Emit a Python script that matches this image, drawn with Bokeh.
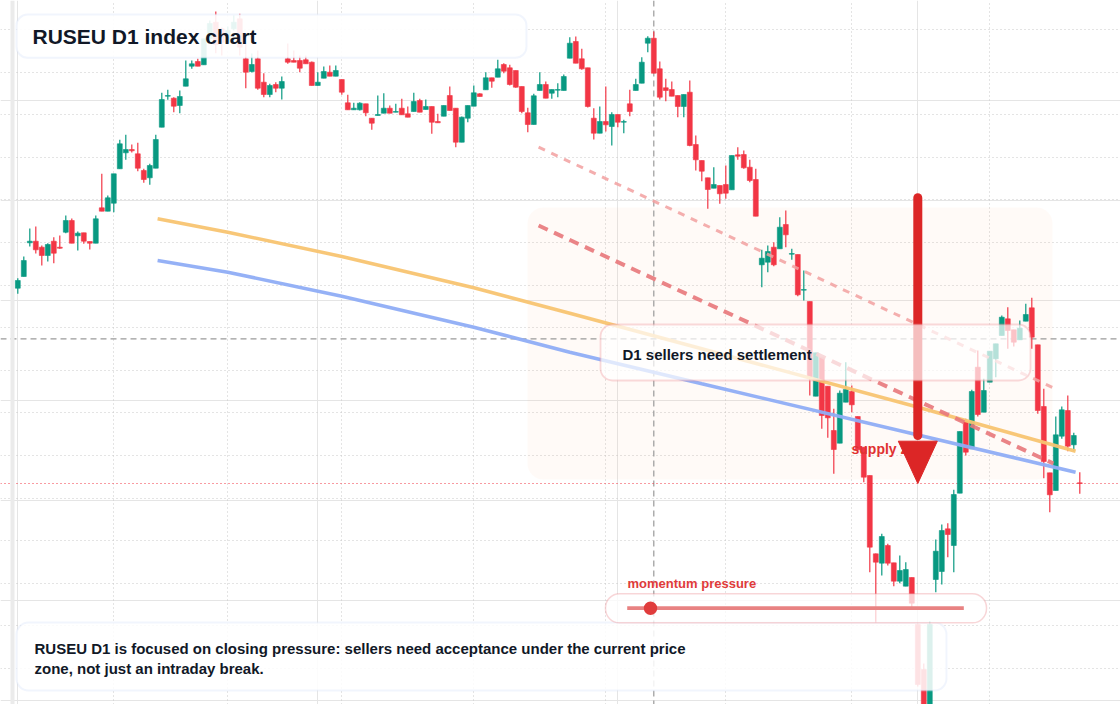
from bokeh.plotting import figure
from bokeh.models import Range1d, FixedTicker, Grid, BoxAnnotation, Label, Span, ColumnDataSource
from bokeh.embed import file_html
from bokeh.resources import INLINE

# ---------------- data (daily candles) ----------------
open_ = [
    51.23, 52.4, 55.77, 55.93, 55.33, 54.5, 55.93, 55.33, 56.83, 58.0,
    56.47, 56.77, 55.9, 55.73, 59.27, 58.93, 59.73, 63.17, 64.77, 65.1,
    64.67, 63.0, 62.27, 63.23, 67.33, 70.43, 70.23, 69.5, 71.43, 73.43,
    73.9, 73.57, 76.2, 77.83, 77.17, 75.8, 77.17, 78.17, 74.17, 72.9,
    74.17, 71.83, 70.6, 71.6, 71.23, 74.17, 74.0, 74.0, 74.07, 73.83,
    71.5, 72.23, 72.83, 72.43, 72.1, 69.77, 69.07, 69.07, 69.67, 68.23,
    68.5, 68.73, 69.23, 68.83, 69.23, 68.67, 68.9, 70.0, 69.1, 69.4,
    67.9, 68.43, 70.5, 69.23, 65.83, 68.23, 69.43, 70.67, 71.07, 72.27,
    72.33, 73.6, 73.27, 73.0, 71.4, 68.77, 67.6, 71.0, 71.6, 70.73,
    71.03, 71.0, 74.23, 75.9, 74.17, 73.27, 68.23, 66.73, 67.9, 67.4,
    68.6, 67.83, 69.67, 71.0, 71.73, 75.73, 76.23, 73.17, 71.27, 71.1,
    70.5, 69.4, 70.83, 65.6, 64.0, 62.27, 61.23, 61.5, 61.6, 61.07,
    64.57, 64.6, 63.33, 62.1, 53.57, 53.83, 55.33, 55.17, 57.6, 54.63,
    54.6, 51.03, 49.9, 40.43, 44.33, 41.43, 37.0, 35.73, 39.83, 40.9,
    38.4, 35.33, 32.5, 24.67, 23.73, 25.5, 23.77, 21.93, 21.43, 22.3,
    17.6, 13.1, 8.0, 22.1, 22.9, 27.17, 25.5, 30.73, 37.9, 35.17,
    43.33, 38.83, 41.83, 44.17, 46.5, 48.17, 47.07, 46.07, 47.93, 49.27,
    45.57, 39.4, 32.77, 31.0, 36.43, 39.0, 35.57, 31.77,
]
high = [
    52.23, 54.4, 57.2, 57.4, 55.5, 55.73, 56.33, 56.5, 58.5, 58.2,
    56.9, 56.77, 55.9, 58.5, 62.67, 60.5, 62.67, 66.07, 66.57, 65.6,
    65.77, 63.17, 63.67, 66.57, 70.77, 71.07, 70.33, 71.0, 74.0, 74.0,
    74.17, 76.17, 78.0, 78.9, 77.3, 77.4, 78.5, 78.67, 75.67, 74.7,
    75.0, 72.73, 71.67, 71.83, 72.4, 75.7, 75.0, 74.5, 74.5, 73.9,
    72.83, 73.4, 73.5, 73.5, 72.1, 70.57, 69.77, 69.83, 69.67, 68.23,
    70.5, 70.73, 69.5, 69.67, 70.17, 69.4, 70.77, 70.17, 70.1, 69.4,
    68.67, 69.5, 71.4, 69.23, 68.4, 69.5, 71.5, 70.73, 72.83, 72.27,
    74.07, 73.73, 73.57, 73.0, 71.4, 69.27, 70.67, 72.83, 71.9, 71.1,
    71.73, 72.6, 76.33, 76.4, 75.17, 73.27, 69.23, 69.4, 71.4, 68.83,
    68.6, 68.07, 71.07, 72.17, 74.33, 76.43, 76.9, 73.9, 72.17, 71.9,
    70.5, 70.6, 72.0, 66.5, 64.0, 62.27, 63.33, 61.5, 63.5, 64.5,
    65.33, 65.0, 64.07, 63.17, 55.07, 55.5, 55.83, 58.33, 59.0, 55.17,
    54.6, 53.0, 49.9, 44.77, 44.33, 41.43, 39.17, 41.0, 43.83, 41.5,
    38.4, 35.33, 32.5, 24.7, 26.67, 25.67, 23.77, 24.5, 23.83, 22.3,
    17.7, 13.7, 17.9, 26.1, 27.6, 27.73, 31.07, 36.9, 38.17, 41.07,
    45.0, 42.17, 44.93, 45.67, 48.5, 49.33, 47.07, 48.0, 49.67, 50.27,
    45.57, 41.17, 32.77, 38.4, 39.4, 40.5, 36.77, 32.83,
]
low = [
    50.67, 52.4, 55.4, 54.7, 53.5, 53.9, 53.73, 55.17, 56.73, 55.73,
    55.0, 55.67, 55.1, 55.73, 58.93, 58.93, 58.83, 63.17, 64.07, 64.8,
    62.93, 61.77, 61.57, 63.23, 67.33, 70.07, 68.83, 68.73, 71.43, 73.17,
    73.43, 73.57, 75.8, 74.73, 74.5, 75.6, 77.0, 74.5, 71.23, 72.8,
    71.07, 70.33, 70.33, 70.83, 70.1, 73.67, 73.83, 72.83, 73.67, 71.5,
    71.5, 72.23, 72.43, 72.43, 70.57, 69.07, 69.07, 69.0, 68.43, 67.07,
    68.5, 68.73, 68.73, 68.83, 68.57, 68.33, 68.9, 68.83, 69.1, 66.67,
    67.77, 68.43, 69.0, 65.33, 65.83, 67.83, 69.43, 70.4, 71.07, 71.27,
    72.33, 72.73, 71.5, 71.27, 68.73, 66.83, 67.6, 71.0, 70.23, 70.17,
    70.33, 71.0, 74.23, 73.73, 73.07, 69.3, 66.1, 66.73, 66.9, 65.5,
    67.33, 66.73, 68.43, 71.0, 71.73, 74.83, 72.73, 70.1, 69.93, 70.43,
    68.33, 68.33, 65.43, 63.0, 61.93, 59.17, 61.23, 59.67, 60.17, 61.07,
    64.07, 63.17, 61.83, 58.43, 51.33, 52.83, 53.43, 55.17, 55.33, 54.07,
    50.43, 50.0, 40.5, 40.43, 37.17, 36.27, 32.67, 35.73, 39.83, 38.83,
    35.07, 31.83, 22.83, 17.8, 22.5, 23.5, 21.43, 21.73, 21.43, 19.17,
    11.4, 7.5, 7.2, 20.83, 21.6, 24.33, 22.83, 30.73, 34.5, 35.17,
    38.4, 38.83, 41.83, 42.33, 46.5, 45.17, 45.4, 46.07, 47.93, 45.17,
    38.67, 32.23, 28.83, 31.0, 36.17, 34.93, 34.93, 30.67,
]
close = [
    52.0, 54.0, 55.93, 55.07, 54.5, 55.6, 54.73, 55.23, 58.0, 55.73,
    56.73, 55.93, 55.73, 58.17, 58.93, 60.27, 62.67, 65.67, 65.1, 64.97,
    63.23, 62.1, 63.5, 66.1, 70.1, 70.5, 69.43, 70.4, 72.17, 73.67,
    73.43, 76.17, 77.7, 75.6, 75.83, 77.0, 77.83, 75.33, 72.83, 73.6,
    71.23, 70.6, 71.5, 71.23, 71.9, 73.83, 73.83, 73.23, 73.67, 71.5,
    71.83, 72.9, 72.43, 73.0, 70.83, 69.07, 69.23, 69.73, 68.77, 67.73,
    68.6, 69.23, 68.73, 68.9, 68.57, 68.33, 69.9, 68.83, 69.4, 67.83,
    67.77, 69.5, 69.0, 65.83, 68.33, 69.5, 70.77, 70.4, 72.27, 71.93,
    73.17, 72.93, 71.6, 71.33, 68.9, 67.6, 70.47, 71.6, 70.23, 71.1,
    71.1, 72.4, 75.73, 73.73, 73.17, 69.4, 66.73, 67.9, 67.57, 68.6,
    67.83, 67.9, 68.9, 71.6, 73.83, 76.23, 72.73, 70.33, 71.0, 70.43,
    69.4, 70.6, 65.5, 64.07, 62.93, 61.1, 61.6, 60.67, 60.73, 64.5,
    64.43, 63.27, 62.0, 58.43, 54.23, 54.9, 53.57, 57.33, 56.57, 54.7,
    50.57, 51.1, 42.33, 44.77, 38.5, 38.27, 35.1, 40.73, 41.1, 39.57,
    35.07, 32.33, 25.33, 23.83, 26.4, 23.73, 21.93, 23.0, 23.1, 19.73,
    11.6, 8.2, 17.6, 24.93, 27.0, 26.6, 30.6, 36.9, 34.83, 40.9,
    38.6, 41.0, 44.93, 45.67, 48.33, 47.0, 45.83, 47.23, 48.6, 46.33,
    39.0, 33.9, 30.57, 36.57, 39.07, 35.43, 36.5, 31.7,
]

# month grid (candle index) and price grid
x_grid_ticks = [16, 35, 54, 76, 98, 118, 139, 162]
y_grid_ticks = [77.1, 72.84, 68.58, 64.32, 60.06, 55.8, 51.54, 47.28,
                43.02, 38.76, 34.5, 30.24, 25.98, 21.72, 17.46, 13.2]

# smoothed trend curves (candle index, price)
trend_x = [23.3, 35, 54, 76, 92, 114, 149, 176.3]
trend_orange = [58.17, 56.83, 54.4, 51.27, 48.73, 45.17, 39.5, 34.93]
trend_blue = [54.0, 52.83, 50.43, 47.33, 44.83, 41.67, 36.7, 32.83]

# descending channel (candle index, price)
chan_upper_x = [86.8, 172.45]
chan_upper = [65.33, 41.3]
chan_lower_x = [86.8, 172.6]
chan_lower = [57.5, 33.7]

crosshair_x = 106
crosshair_y = 46.17
supply_zone = dict(left=84.95, right=172.45, top=59.3, bottom=32.1)

title = "RUSEU D1 index chart"
note_lines = ["RUSEU D1 is focused on closing pressure: sellers need acceptance under the current price",
              "zone, not just an intraday break."]
callout = "D1 sellers need settlement"
zone_label = "supply zone"
momentum_label = "momentum pressure"

# ---------------- figure ----------------
GREEN = "#089981"
RED = "#f23645"
FONT = "Liberation Sans"
DARK = "#111827"

n = len(close)
idx = list(range(n))
colors = [GREEN if c >= o else RED for o, c in zip(open_, close)]
src = ColumnDataSource(dict(
    x=idx, high=high, low=low,
    top=[max(o, c) for o, c in zip(open_, close)],
    bottom=[min(o, c) for o, c in zip(open_, close)],
    color=colors,
))

W, H = 1120, 704
x0 = -17.3 / 6
p = figure(width=W, height=H, x_range=Range1d(x0, x0 + W / 6), y_range=Range1d(80 - H / 10, 80),
           output_backend="svg", toolbar_location=None, x_axis_location=None, y_axis_location=None,
           min_border=0, outline_line_color=None)
p.background_fill_color = "white"
p.border_fill_color = "white"

grid_style = dict(grid_line_color="#c9c9c9", grid_line_dash="1 3", grid_line_width=1)
p.add_layout(Grid(dimension=0, ticker=FixedTicker(ticks=x_grid_ticks), **grid_style))
p.add_layout(Grid(dimension=1, ticker=FixedTicker(ticks=y_grid_ticks), **grid_style))

p.add_layout(BoxAnnotation(fill_color="#fb923c", fill_alpha=0.045, line_color=None,
                           border_radius=16, level="underlay", **supply_zone))

p.add_layout(Span(location=crosshair_x, dimension="height", line_color="#9a9a9a",
                  line_dash="6 4", line_width=1.2, level="underlay"))
p.add_layout(Span(location=crosshair_y, dimension="width", line_color="#9a9a9a",
                  line_dash="6 4", line_width=1.2, level="underlay"))
p.add_layout(Span(location=close[-1], dimension="width", line_color=RED,
                  line_dash="1 3", line_width=1.2, level="underlay"))

# candles
p.segment(x0="x", y0="low", x1="x", y1="high", line_color="color", line_width=1.2, source=src)
p.vbar(x="x", width=0.82, top="top", bottom="bottom", fill_color="color",
       line_color="color", line_width=0.6, source=src)

# trend curves and channel
p.line(trend_x, trend_orange, line_color="#f8c471", line_width=3.5, line_alpha=0.95)
p.line(trend_x, trend_blue, line_color="#8fadf5", line_width=3.5, line_alpha=0.95)
p.line(chan_upper_x, chan_upper, line_color="#f2a0a0", line_width=3, line_dash="7 7", line_alpha=0.85)
p.line(chan_lower_x, chan_lower, line_color="#e8777a", line_width=4, line_dash="10 7", line_alpha=0.9)

# supply zone label (under the arrow)
p.add_layout(Label(x=138.95, y=35.2, text=zone_label, text_font=FONT, text_font_style="bold",
                   text_font_size="14px", text_color="#e03131", text_baseline="middle",
                   text_align="left", level="glyph"))

# arrow down to last close
arrow_x = 150
p.segment(x0=[arrow_x], y0=[60.28], x1=[arrow_x], y1=[36.5], line_color="#dc2626",
          line_width=9, line_cap="round", level="annotation")
p.patch(x=[arrow_x - 3.25, arrow_x + 3.25, arrow_x], y=[35.93, 35.93, close[-1]],
        fill_color="#dc2626", line_color="#dc2626", line_width=1, level="annotation")

# overlays
p.add_layout(BoxAnnotation(left=-1.217, right=-0.55, fill_color="#ebebeb", fill_alpha=1,
                           line_color=None, level="overlay"))

p.add_layout(BoxAnnotation(left=97.12, right=168.78, top=47.6, bottom=42.0, fill_color="white",
                           fill_alpha=0.7, line_color="#eb848b", line_width=1.8,
                           border_radius=12, level="overlay"))
p.add_layout(Label(x=100.78, y=44.65, text=callout, text_font=FONT, text_font_style="bold",
                   text_font_size="15px", text_color=DARK, text_baseline="middle",
                   text_align="left", level="overlay"))

p.add_layout(BoxAnnotation(left=-0.217, right=84.78, top=78.6, bottom=74.27, fill_color="white",
                           fill_alpha=0.9, line_color="#cfdff7", line_width=2,
                           border_radius=11, level="overlay"))
p.add_layout(Label(x=2.45, y=76.4, text=title, text_font=FONT, text_font_style="bold",
                   text_font_size="21px", text_color=DARK, text_baseline="middle",
                   text_align="left", level="overlay"))

p.add_layout(BoxAnnotation(left=-0.217, right=154.78, top=17.8, bottom=11.0, fill_color="white",
                           fill_alpha=0.86, line_color="#cfdff7", line_width=2,
                           border_radius=12, level="overlay"))
for k, line in enumerate(note_lines):
    p.add_layout(Label(x=2.78, y=15.2 - 2.0 * k, text=line, text_font=FONT, text_font_style="bold",
                       text_font_size="15px", text_color=DARK, text_baseline="middle",
                       text_align="left", level="overlay"))

p.add_layout(BoxAnnotation(left=97.95, right=161.45, top=20.67, bottom=17.77, fill_color="white",
                           fill_alpha=0.75, line_color="#e8767e", line_width=1.5,
                           border_radius=14, level="overlay"))
p.add_layout(BoxAnnotation(left=101.57, right=157.67, top=19.42, bottom=19.04, fill_color="#e88282",
                           fill_alpha=1, line_color=None, level="overlay"))
p.add_layout(BoxAnnotation(left=104.33, right=106.57, top=19.9, bottom=18.56, fill_color="#e03c3c",
                           fill_alpha=1, line_color=None, border_radius=7, level="overlay"))
p.add_layout(Label(x=101.62, y=21.75, text=momentum_label, text_font=FONT, text_font_style="bold",
                   text_font_size="13px", text_color="#e03b3b", text_baseline="middle",
                   text_align="left", level="overlay"))

open("out.html", "w").write(file_html(p, INLINE))
